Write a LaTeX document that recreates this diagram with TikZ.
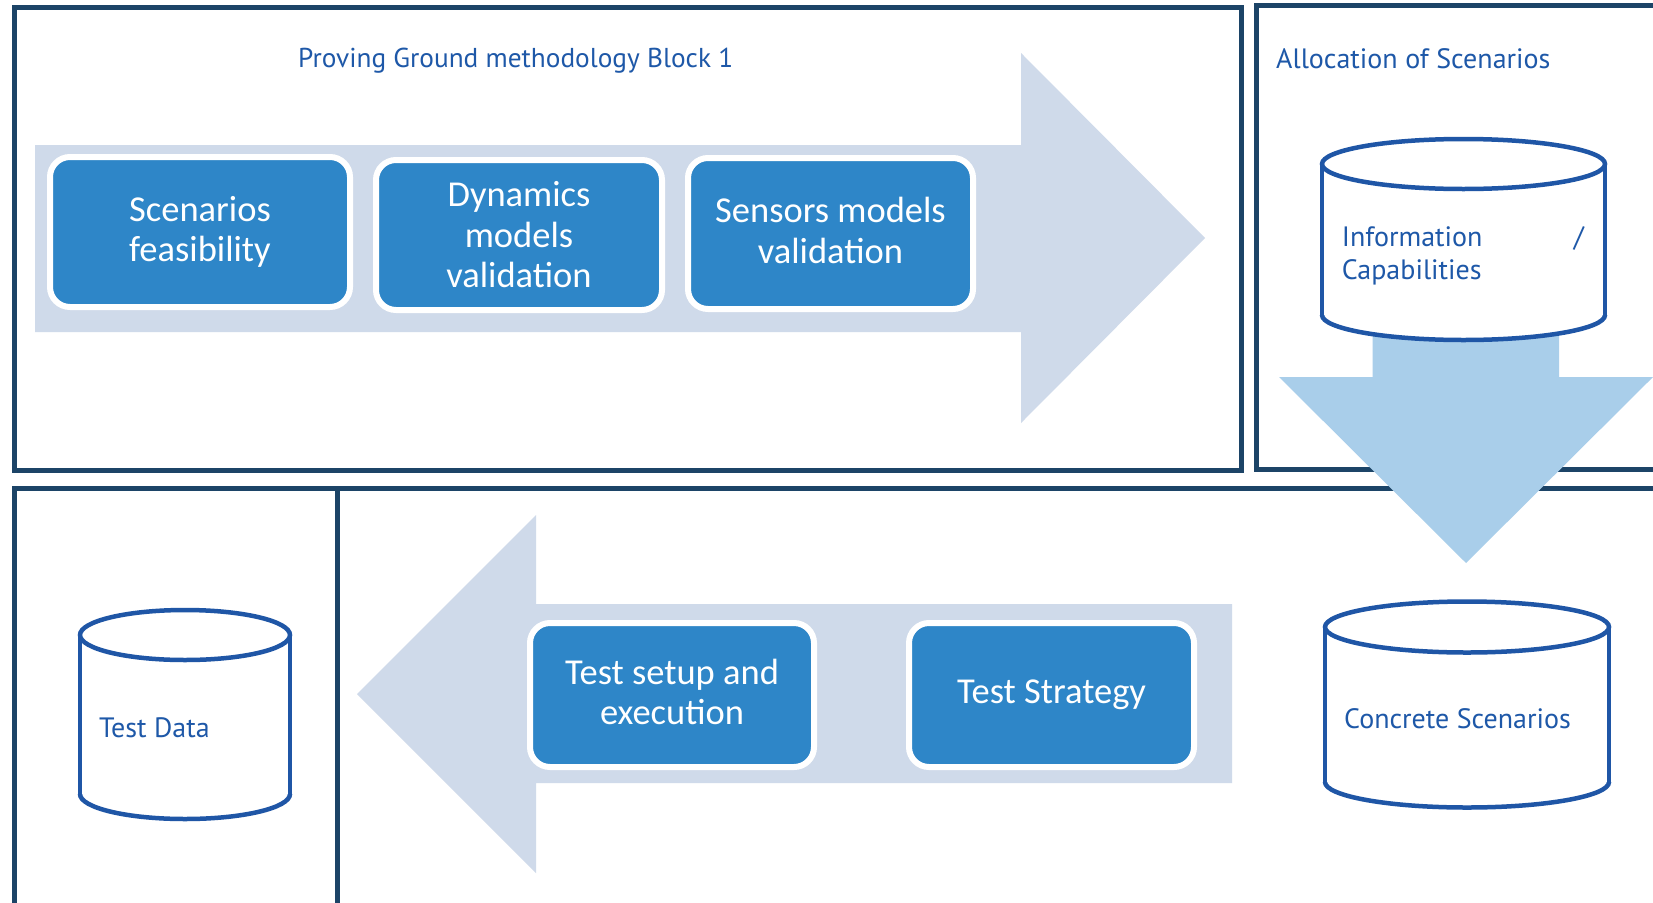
\documentclass[tikz,border=0pt]{standalone}
\usepackage{fontspec}
\newfontfamily\boxfont{Carlito}
\newfontfamily\labelfont{PT Sans}
\definecolor{framecol}{HTML}{1C4467}
\definecolor{flowcol}{HTML}{CFDAEA}
\definecolor{dropcol}{HTML}{A9CEEA}
\definecolor{stagecol}{HTML}{2E86C8}
\definecolor{inkcol}{HTML}{1E58A8}
\definecolor{drumcol}{HTML}{1F56A6}

% database drum: centre x, top-ellipse y, bottom-ellipse y, x radius, y radius
\newcommand\drum[5]{%
  \fill[white] (#1-#4,#2) rectangle (#1+#4,#3);
  \fill[white] (#1,#3) ellipse [x radius=#4, y radius=#5];
  \begin{scope}
    \clip (#1-#4-10,#3) rectangle (#1+#4+10,#3+#5+10);
    \draw[drumline] (#1,#3) ellipse [x radius=#4, y radius=#5];
  \end{scope}
  \draw[drumline] (#1-#4,#2) -- (#1-#4,#3);
  \draw[drumline] (#1+#4,#2) -- (#1+#4,#3);
  \draw[drumline, fill=white] (#1,#2) ellipse [x radius=#4, y radius=#5];
}

\begin{document}
\begin{tikzpicture}[x=1pt,y=-1pt,
  panel/.style={draw=framecol, line width=5pt},
  stage/.style={draw=white, line width=6pt, fill=stagecol, rounded corners=20pt,
    text=white, font=\boxfont\fontsize{36.5}{40.5}\selectfont, align=center, inner sep=0pt},
  caption/.style={text=inkcol, font=\labelfont\fontsize{28}{32.5}\selectfont,
    inner sep=0pt, anchor=base west},
  drumline/.style={draw=drumcol, line width=4.5pt}
]
\useasboundingbox (0,0) rectangle (1653,902);
\clip (0,0) rectangle (1653,902);
\fill[white] (0,0) rectangle (1653,902);

% panels
\draw[panel] (14,7) rectangle (1241,470);
\draw[panel] (1256.5,5) rectangle (1720,469.5);
\draw[panel] (14,488) rectangle (1720,960);
\draw[panel] (337.5,488) -- (337.5,960);

% flow arrows
\fill[flowcol] (35,145) -- (1021,145) -- (1021,53) -- (1205,238)
  -- (1021,423) -- (1021,332) -- (35,332) -- cycle;
\fill[flowcol] (1232,604) -- (536,604) -- (536,515) -- (357,694)
  -- (536,873) -- (536,783) -- (1232,783) -- cycle;

% process stages
\node[stage, minimum width=300pt, minimum height=150pt] (feas) at (200,232) {Scenarios\\feasibility};
\node[stage, minimum width=286pt, minimum height=150pt] (dyn) at (519,235) {Dynamics\\models\\validation};
\node[stage, minimum width=285pt, minimum height=151pt] (sens) at (830.5,233.5) {Sensors models\\validation\vphantom{p}};
\node[stage, minimum width=284pt, minimum height=144pt] (setup) at (672,695) {Test setup and\\execution\vphantom{p}};
\node[stage, minimum width=285pt, minimum height=144pt] (strat) at (1051.5,695) {Test Strategy};

% allocation arrow
\fill[dropcol] (1372.5,315) -- (1559,315) -- (1559,377) -- (1653,377)
  -- (1466,563) -- (1279,377) -- (1372.5,377) -- cycle;

% data stores
\drum{1463.5}{164}{315}{141.5}{25}
\drum{185}{635}{794}{105}{25}
\drum{1467}{627}{782}{142}{25.5}

% captions
\node[caption, font=\labelfont\fontsize{27.3}{32.5}\selectfont] (title) at (298,67.5) {Proving Ground methodology Block 1};
\node[caption] (alloc) at (1276,68.3) {Allocation of Scenarios};
\node[caption] (info) at (1341.7,246) {Information};
\node[caption, anchor=base east] (slash) at (1584,246) {/};
\node[caption] (capab) at (1341.7,279) {Capabilities};
\node[caption] (tdata) at (99,737) {Test Data};
\node[caption] (concrete) at (1344,728) {Concrete Scenarios};
\end{tikzpicture}
\end{document}
